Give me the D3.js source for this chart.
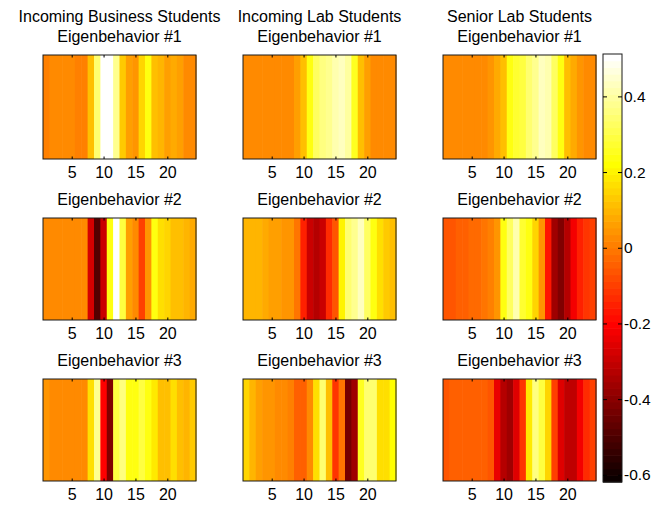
<!DOCTYPE html>
<html>
<head>
<meta charset="utf-8">
<script src="https://cdn.jsdelivr.net/npm/d3@7/dist/d3.min.js"></script>
<style>
  html, body { margin: 0; padding: 0; background: #fff; }
  svg { display: block; }
  text { font-family: "Liberation Sans", Arial, sans-serif; fill: #000; }
</style>
</head>
<body>
<svg id="chart" width="654" height="506"></svg>
<script>
// ---------------- data ----------------
const hours = d3.range(1, 25);
const groups = ["Incoming Business Students", "Incoming Lab Students", "Senior Lab Students"];
const eigenLabels = ["Eigenbehavior #1", "Eigenbehavior #2", "Eigenbehavior #3"];
const xTickValues = [5, 10, 15, 20];
const colorbarTicks = [0.4, 0.2, 0, -0.2, -0.4, -0.6];
const colorbarTickLabels = ["0.4", "0.2", "0", "-0.2", "-0.4", "-0.6"];
const colorLimits = [-0.619, 0.512];

const businessEB1 = [0.005, 0.018, 0.018, 0.018, 0.018, 0.013, 0.013, 0.121, 0.351, 0.50, 0.50, 0.373,
                     0.138, 0.054, 0.038, 0.154, 0.23, 0.121, 0.088, 0.054, 0.071, 0.054, 0.03, 0.021];
const businessEB2 = [0.03, 0.03, 0.03, 0.018, 0.018, 0.018, 0.018, -0.27, -0.486, -0.286, 0.232, 0.50,
                     0.296, 0.054, 0.021, -0.095, 0.038, 0.232, 0.171, 0.154, 0.113, 0.113, 0.096, 0.079];
const businessEB3 = [0.046, 0.018, 0.018, 0.03, 0.018, 0.018, 0.018, 0.171, 0.373, -0.195, -0.42, 0.296,
                     0.362, 0.232, 0.235, 0.285, 0.24, 0.187, 0.113, 0.113, 0.163, 0.121, 0.096, 0.129];

const labEB1 = [0.018, 0.018, 0.018, 0.018, 0.018, 0.018, 0.018, 0.03, 0.054, 0.113, 0.232, 0.318,
                0.362, 0.384, 0.418, 0.44, 0.396, 0.262, 0.121, 0.054, 0.03, 0.018, 0.018, 0.018];
const labEB2 = [0.104, 0.088, 0.088, 0.071, 0.063, 0.054, 0.038, 0.038, -0.012, -0.145, -0.286, -0.32,
                -0.286, -0.128, -0.062, 0.204, 0.34, 0.384, 0.44, 0.329, 0.232, 0.171, 0.129, 0.121];
const labEB3 = [0.154, 0.104, 0.054, 0.038, 0.038, 0.021, 0.021, 0.013, -0.037, -0.037, 0.021, 0.163,
                0.351, 0.121, -0.112, -0.012, -0.436, -0.37, 0.262, 0.34, 0.351, 0.163, 0.163, 0.221];

const seniorEB1 = [0.018, 0.018, 0.018, 0.018, 0.018, 0.021, 0.021, 0.038, 0.071, 0.121, 0.246, 0.273,
                   0.296, 0.351, 0.384, 0.44, 0.418, 0.318, 0.232, 0.121, 0.079, 0.038, 0.018, 0.018];
const seniorEB2 = [-0.062, -0.054, -0.045, -0.037, -0.029, -0.02, -0.012, 0.005, 0.038, 0.24, 0.318, 0.418,
                   0.273, 0.232, 0.154, 0.038, -0.162, -0.37, -0.42, -0.336, -0.22, -0.153, -0.112, -0.095];
const seniorEB3 = [-0.062, -0.049, -0.045, -0.037, -0.037, -0.045, -0.049, -0.062, -0.237, -0.336, -0.37, -0.253,
                   -0.112, 0.187, 0.362, 0.285, 0.154, -0.095, -0.253, -0.303, -0.303, -0.22, -0.128, -0.095];

// grid of panels: rows = eigenbehaviors, columns = groups
const panelData = [
  [businessEB1, labEB1, seniorEB1],
  [businessEB2, labEB2, seniorEB2],
  [businessEB3, labEB3, seniorEB3]
];

// ---------------- colormap (MATLAB hot, 64 levels) ----------------
function hotColors(m) {
  const n = Math.floor(3 / 8 * m);
  const out = [];
  for (let i = 0; i < m; i++) {
    const r = Math.min(1, (i + 1) / n);
    const g = Math.max(0, Math.min(1, (i + 1 - n) / n));
    const b = Math.max(0, Math.min(1, (i + 1 - 2 * n) / (m - 2 * n)));
    out.push(d3.rgb(Math.round(r * 255), Math.round(g * 255), Math.round(b * 255)).formatHex());
  }
  return out;
}
const hot64 = hotColors(64);
const color = d3.scaleQuantize().domain(colorLimits).range(hot64);

// ---------------- layout ----------------
const svg = d3.select("#chart");
const colX = [43, 243, 443];
const panelW = 153;
const rowY = [55, 218, 379];
const rowH = [104, 102, 102];
const tickLen = 2.5;

panelData.forEach((row, ri) => {
  row.forEach((vals, ci) => {
    const x0 = colX[ci], y0 = rowY[ri], h = rowH[ri];
    const x = d3.scaleLinear().domain([0.5, 24.5]).range([x0, x0 + panelW]);
    const g = svg.append("g");

    g.selectAll("rect.cell")
      .data(hours)
      .join("rect")
      .attr("class", "cell")
      .attr("x", d => x(d - 0.5))
      .attr("y", y0)
      .attr("width", d => x(d + 0.5) - x(d - 0.5) + 0.6)
      .attr("height", h)
      .attr("fill", d => color(vals[d - 1]));

    // frame
    g.append("rect")
      .attr("x", x0).attr("y", y0)
      .attr("width", panelW).attr("height", h)
      .attr("fill", "none").attr("stroke", "#1a1a1a").attr("stroke-width", 1);

    // bottom axis (ticks inward) + top ticks
    const axB = d3.axisBottom(x).tickValues(xTickValues).tickSizeInner(-tickLen).tickSizeOuter(0).tickPadding(8);
    const gb = g.append("g").attr("transform", `translate(0,${y0 + h})`).call(axB);
    gb.select(".domain").remove();
    gb.selectAll("line").attr("stroke", "#000");
    gb.selectAll("text")
      .attr("font-size", 16)
      .attr("font-family", "Liberation Sans, Arial, sans-serif")
      .attr("fill", "#000")
      .attr("dy", null)
      .attr("y", 19);
    const axT = d3.axisTop(x).tickValues(xTickValues).tickSizeInner(-tickLen).tickSizeOuter(0).tickFormat("");
    const gt = g.append("g").attr("transform", `translate(0,${y0})`).call(axT);
    gt.select(".domain").remove();
    gt.selectAll("line").attr("stroke", "#000");

    // titles
    const cx = x0 + panelW / 2;
    g.append("text")
      .attr("x", cx).attr("y", y0 - 13)
      .attr("text-anchor", "middle").attr("font-size", 16)
      .text(eigenLabels[ri]);
    if (ri === 0) {
      g.append("text")
        .attr("x", cx).attr("y", y0 - 33)
        .attr("text-anchor", "middle").attr("font-size", 16)
        .text(groups[ci]);
    }
  });
});

// ---------------- colorbar ----------------
const cbX = 603, cbW = 19, cbTop = 54, cbBottom = 482;
const cbY = d3.scaleLinear().domain(colorLimits).range([cbBottom, cbTop]);
const cb = svg.append("g");
const levelW = (colorLimits[1] - colorLimits[0]) / hot64.length;
cb.selectAll("rect.lvl")
  .data(hot64)
  .join("rect")
  .attr("class", "lvl")
  .attr("x", cbX)
  .attr("width", cbW)
  .attr("y", (d, i) => cbY(colorLimits[0] + (i + 1) * levelW))
  .attr("height", (d, i) => cbY(colorLimits[0] + i * levelW) - cbY(colorLimits[0] + (i + 1) * levelW) + 0.6)
  .attr("fill", d => d);
cb.append("rect")
  .attr("x", cbX).attr("y", cbTop)
  .attr("width", cbW).attr("height", cbBottom - cbTop)
  .attr("fill", "none").attr("stroke", "#1a1a1a");

const axR = d3.axisRight(cbY).tickValues(colorbarTicks).tickSizeInner(-4).tickSizeOuter(0)
  .tickPadding(6).tickFormat((d, i) => colorbarTickLabels[i]);
const gr = cb.append("g").attr("transform", `translate(${cbX + cbW},0)`).call(axR);
gr.select(".domain").remove();
gr.selectAll("line").attr("stroke", "#000");
gr.selectAll("text")
  .attr("font-size", 15.5)
  .attr("font-family", "Liberation Sans, Arial, sans-serif")
  .attr("fill", "#000")
  .attr("x", 2);
const axL = d3.axisLeft(cbY).tickValues(colorbarTicks).tickSizeInner(-4).tickSizeOuter(0).tickFormat("");
const gl = cb.append("g").attr("transform", `translate(${cbX},0)`).call(axL);
gl.select(".domain").remove();
gl.selectAll("line").attr("stroke", "#000");
</script>
</body>
</html>
